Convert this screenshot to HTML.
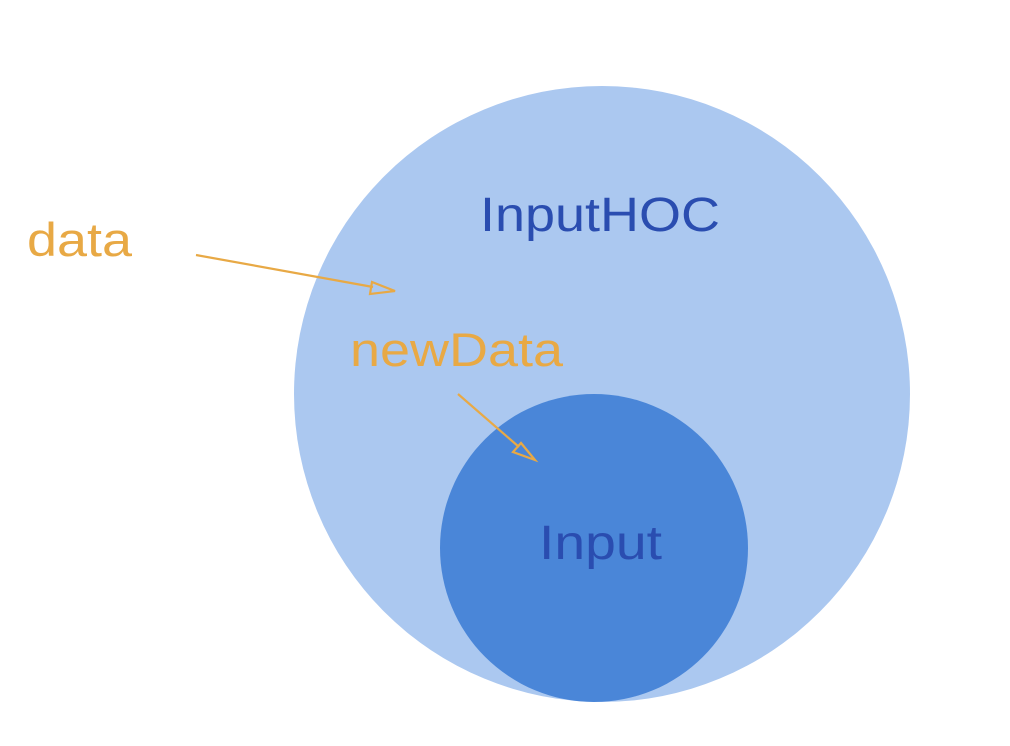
<!DOCTYPE html>
<html><head><style>
html,body{margin:0;padding:0;background:#fff;}
svg{display:block;}
text{font-family:"Liberation Sans",sans-serif;}
</style></head><body>
<svg width="1010" height="746" viewBox="0 0 1010 746" xmlns="http://www.w3.org/2000/svg">
<rect width="1010" height="746" fill="#fff"/>
<circle cx="602" cy="394" r="308" fill="#abc8f0"/>
<circle cx="594" cy="548" r="154" fill="#4a86d8"/>
<text x="27" y="256" font-size="47" fill="#e8a945" textLength="105" lengthAdjust="spacingAndGlyphs">data</text>
<text x="480" y="231" font-size="48" fill="#2a4db0" textLength="240" lengthAdjust="spacingAndGlyphs">InputHOC</text>
<text x="350" y="366" font-size="47" fill="#e8a945" textLength="213" lengthAdjust="spacingAndGlyphs">newData</text>
<text x="539" y="559" font-size="48" fill="#2a4db0" textLength="123" lengthAdjust="spacingAndGlyphs">Input</text>
<g stroke="#e8a945" stroke-width="2.2" fill="none">
<line x1="196" y1="255" x2="373" y2="287"/>
<polygon points="395,291 372,282 370,294"/>
<line x1="458" y1="394" x2="519" y2="447"/>
<polygon points="535,460 521,443 513,452"/>
</g>
</svg>
</body></html>
